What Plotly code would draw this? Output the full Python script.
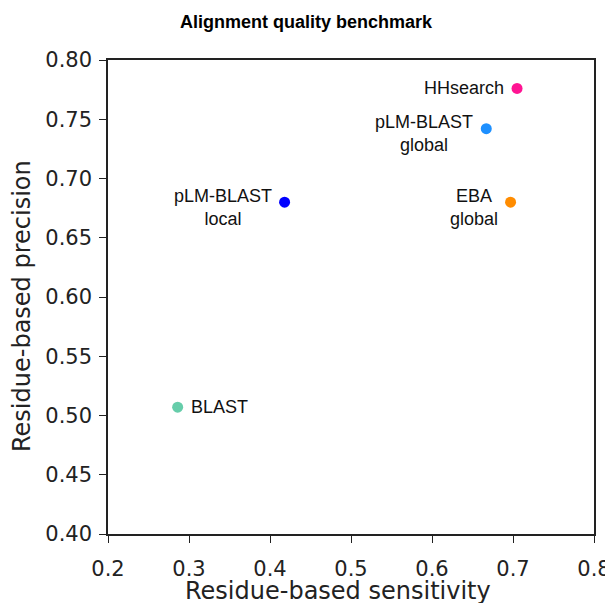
import plotly.graph_objects as go

methods = ["HHsearch", "pLM-BLAST<br>global", "pLM-BLAST<br>local", "EBA<br>global", "BLAST"]
sensitivity = [0.705, 0.667, 0.418, 0.697, 0.286]
precision = [0.776, 0.742, 0.680, 0.680, 0.507]
colors = ["#FF1493", "#1E90FF", "#0000FF", "#FF8C00", "#66CDAA"]
label_side = ["left", "left", "left", "left", "right"]

x_ticks = [0.2, 0.3, 0.4, 0.5, 0.6, 0.7, 0.8]
y_ticks = [0.40, 0.45, 0.50, 0.55, 0.60, 0.65, 0.70, 0.75, 0.80]

fig = go.Figure()
fig.add_trace(go.Scatter(
    x=sensitivity, y=precision, mode="markers",
    marker=dict(color=colors, size=11, line=dict(width=0)),
    hoverinfo="skip", showlegend=False,
))

for m, sx, py, side in zip(methods, sensitivity, precision, label_side):
    multi = "<br>" in m
    fig.add_annotation(
        x=sx, y=py, text=m, showarrow=False,
        xanchor="right" if side == "left" else "left",
        xshift=-11 if side == "left" else 11,
        yanchor="middle", yshift=-5 if multi else 0,
        align="center",
        font=dict(family="Liberation Sans, Arial, sans-serif", size=18, color="#111111"),
    )

axis_font = dict(family="DejaVu Sans, sans-serif", size=21, color="#222222")
axis_common = dict(
    showgrid=False, zeroline=False, showline=True, linecolor="#222222", linewidth=1.5,
    mirror=True, ticks="outside", ticklen=7, tickwidth=1.3, tickcolor="#222222",
    tickfont=axis_font, automargin=False,
)

fig.update_xaxes(range=[0.2, 0.8], tickvals=x_ticks, ticklabelstandoff=8,
                 ticktext=[f"{v:.1f}" for v in x_ticks], **axis_common)
fig.update_yaxes(range=[0.40, 0.80], tickvals=y_ticks, ticklabelstandoff=3,
                 ticktext=[f"{v:.2f}" for v in y_ticks], **axis_common)

title_font = dict(family="DejaVu Sans, sans-serif", size=24, color="#222222")
fig.add_annotation(text="Residue-based sensitivity", xref="paper", yref="paper",
                   x=0.5, y=0, xanchor="center", yanchor="middle",
                   xshift=-13, yshift=-57,
                   showarrow=False, font=title_font)
fig.add_annotation(text="Residue-based precision", xref="paper", yref="paper",
                   x=0, y=0.5, xanchor="center", yanchor="middle",
                   xshift=-86, yshift=-9,
                   textangle=-90, showarrow=False, font=title_font)

fig.update_layout(
    width=605, height=595,
    margin=dict(l=100, r=19, t=52, b=69, autoexpand=False),
    paper_bgcolor="white", plot_bgcolor="white",
    title=dict(text="<b>Alignment quality benchmark</b>", x=(306 - 8) / 605, xanchor="center",
               xref="container", y=1 - 14 / 595, yanchor="middle",
               font=dict(family="Liberation Sans, Arial, sans-serif", size=18, color="black")),
)

fig.write_html("out.html")
